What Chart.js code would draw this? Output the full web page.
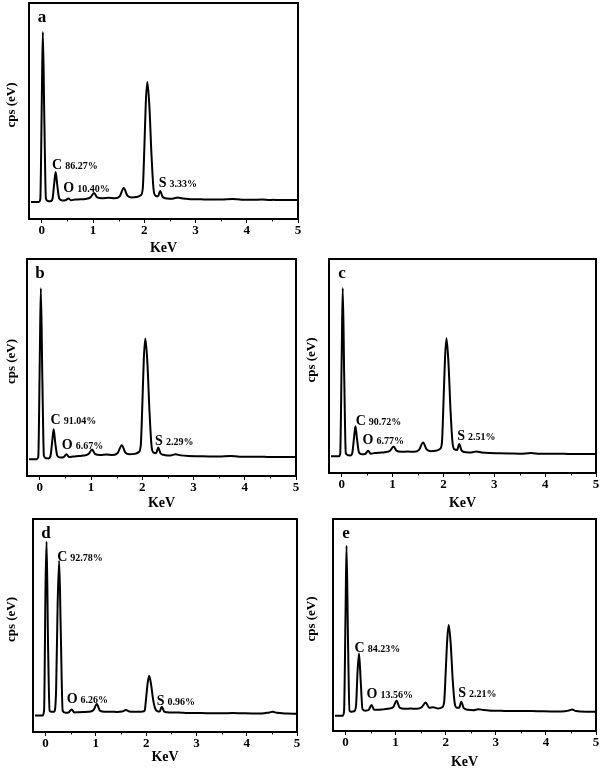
<!DOCTYPE html>
<html><head><meta charset="utf-8">
<script src="https://cdn.jsdelivr.net/npm/chart.js@4/dist/chart.umd.min.js"></script>
<style>
html,body{margin:0;padding:0;background:#fff;}
#wrap{position:relative;width:600px;height:771px;overflow:hidden;background:#fff;}
canvas{position:absolute;}
</style></head>
<body><div id="wrap">
<canvas id="ca"></canvas><canvas id="cb"></canvas><canvas id="cc"></canvas><canvas id="cd"></canvas><canvas id="ce"></canvas>
</div>
<script>
// ---------- DATA ----------
const energy = [-0.21,-0.06,-0.03,0.0,0.02,0.05,0.08,0.12,0.17,0.21,0.24,0.27,0.3,0.34,0.4,0.46,0.52,0.57,0.65,0.75,0.85,0.95,1.02,1.08,1.18,1.3,1.42,1.52,1.6,1.67,1.75,1.85,1.93,1.97,2.0,2.03,2.06,2.1,2.14,2.18,2.22,2.27,2.31,2.36,2.45,2.55,2.65,2.75,2.9,3.1,3.3,3.5,3.72,3.9,4.1,4.3,4.45,4.52,4.6,4.8,5.0];

const countsA = [7.9,7.9,9.0,55,86.6,45,9.5,8.3,8.2,9.5,16,21.8,16,9.5,8.6,8.7,9.5,8.7,9.0,9.1,9.3,10.0,12.0,10.0,9.6,9.8,9.6,10.5,14.3,10.8,10.0,10.2,11.0,14,32,54,63.4,52,30,14,10.8,10.5,13.0,10.2,9.5,9.4,10.0,9.5,9.2,9.1,9.0,9.0,9.3,8.9,8.9,9.0,8.8,8.9,8.8,8.8,8.8];
const countsB = [7.7,7.7,8.8,55,86.5,44,9.3,8.2,8.1,9.4,15.5,21.5,15.5,9.4,8.5,8.6,10.0,8.8,9.0,9.2,9.4,10.1,12.2,10.1,9.7,9.9,9.7,10.6,14.2,10.8,10.0,10.2,11.0,14,32,54,63.4,52,30,14,10.8,10.5,13.1,10.3,9.6,9.5,10.0,9.5,9.2,9.1,9.0,9.0,9.2,8.9,8.9,8.9,8.8,8.8,8.8,8.8,8.8];
const countsC = [7.8,7.8,8.9,55,86.4,44,9.4,8.3,8.2,9.6,16,21.8,16,9.6,8.8,8.9,10.4,9.0,9.3,9.5,9.7,10.4,12.4,10.3,9.9,10.0,9.9,10.8,14.3,11.0,10.2,10.4,11.2,14,32,53,63.0,51,29,14,11.0,10.8,13.5,10.4,9.7,9.6,10.1,9.6,9.3,9.2,9.1,9.0,9.3,9.0,9.0,9.0,8.9,8.9,8.9,8.9,8.9];
const countsD = [7.7,7.7,10,70,89.4,40,10,9.5,9.5,20,60,80.4,50,10,9.0,9.2,10.6,9.2,9.3,9.4,9.5,10.2,13.1,10.0,9.5,9.5,9.4,9.6,10.3,9.6,9.5,9.5,9.6,10.0,16,23,26.4,22,15,11,9.8,9.6,11.9,9.6,9.2,9.1,9.1,9.0,8.9,8.9,8.8,8.8,8.9,8.8,8.7,8.7,9.2,9.5,9.0,8.7,8.6];
const countsE = [7.2,7.2,9.0,55,87.4,42,9.5,9.1,9.3,12,28,36.6,25,10.2,9.6,9.9,12.3,10.0,10.0,10.2,10.5,11.2,14.3,11.0,10.5,10.6,10.5,11.2,13.4,11.0,11.2,10.6,11.2,14,28,43,50,41,24,13,11.0,11.0,13.8,10.8,10.0,9.8,10.3,9.9,9.6,9.5,9.4,9.4,9.4,9.3,9.2,9.2,9.6,10.2,9.4,9.1,9.1];

const tickValues = [0,1,2,3,4,5];
const tickLabels = ['0','1','2','3','4','5'];
const minorTickValues = [0.5,1.5,2.5,3.5,4.5];
const elementNames = ['C','O','S'];
const pctA = ['86.27%','10.40%','3.33%'];
const pctB = ['91.04%','6.67%','2.29%'];
const pctC = ['90.72%','6.77%','2.51%'];
const pctD = ['92.78%','6.26%','0.96%'];
const pctE = ['84.23%','13.56%','2.21%'];

// ---------- LAYOUT ----------
const SERIF = '"Liberation Serif","Times New Roman",Times,serif';
const panels = [
  {id:'ca', letter:'a', data:countsA, pct:pctA, cx:0,   cy:0,   w:304, h:258, box:[29,3,298,219], keV:248,
   ann:[[0.20,25.5],[0.42,14.8],[2.28,17.1]]},
  {id:'cb', letter:'b', data:countsB, pct:pctB, cx:0,   cy:256, w:304, h:256, box:[27,3,296,220], keV:247,
   ann:[[0.21,26.2],[0.43,14.6],[2.25,16.5]]},
  {id:'cc', letter:'c', data:countsC, pct:pctC, cx:300, cy:256, w:300, h:256, box:[29,3,296,217], keV:247,
   ann:[[0.275,24.6],[0.41,16.0],[2.27,17.6]]},
  {id:'cd', letter:'d', data:countsD, pct:pctD, cx:0,   cy:512, w:304, h:259, box:[33,7,297,220], keV:245,
   ann:[[0.23,82.8],[0.42,16.1],[2.21,15.0]]},
  {id:'ce', letter:'e', data:countsE, pct:pctE, cx:300, cy:512, w:300, h:259, box:[33,7,296,219], keV:251,
   ann:[[0.18,39.8],[0.42,17.8],[2.25,18.3]]}
];

const deco = {
  id:'deco',
  afterDraw(chart, args, o){
    const {ctx, chartArea:ca, scales:{x,y}} = chart;
    ctx.save();
    ctx.strokeStyle = '#000'; ctx.fillStyle = '#000';
    ctx.lineWidth = 2;
    ctx.strokeRect(ca.left, ca.top, ca.right-ca.left, ca.bottom-ca.top);
    ctx.lineWidth = 1;
    for (const v of minorTickValues){
      const px = Math.round(x.getPixelForValue(v))+0.5;
      ctx.beginPath(); ctx.moveTo(px, ca.bottom); ctx.lineTo(px, ca.bottom+2.5); ctx.stroke();
    }
    ctx.font = 'bold 17px '+SERIF; ctx.textAlign='center'; ctx.textBaseline='middle';
    ctx.fillText(o.letter, ca.left+13, ca.top+15);
    ctx.save();
    ctx.translate(12, (ca.top+ca.bottom)/2 - 6); ctx.rotate(-Math.PI/2);
    ctx.font = 'bold 13px '+SERIF; ctx.fillText('cps (eV)', 0, 0);
    ctx.restore();
    ctx.textAlign='left'; ctx.textBaseline='alphabetic';
    o.ann.forEach((a,i)=>{
      const px = x.getPixelForValue(a[0]), py = y.getPixelForValue(a[1]) + 5;
      ctx.font = 'bold 14px '+SERIF;
      ctx.fillText(elementNames[i], px, py);
      const w = ctx.measureText(elementNames[i]).width;
      ctx.font = 'bold 10px '+SERIF;
      ctx.fillText(o.pct[i], px+w+3, py);
    });
    ctx.restore();
  }
};

panels.forEach(p=>{
  const cv = document.getElementById(p.id);
  cv.width = p.w; cv.height = p.h;
  cv.style.left = p.cx+'px'; cv.style.top = p.cy+'px';
  cv.style.width = p.w+'px'; cv.style.height = p.h+'px';
  const axisH = p.h - p.box[3];
  new Chart(cv, {
    type:'line',
    data:{ datasets:[{ data: energy.map((e,i)=>({x:e, y:p.data[i]})),
      borderColor:'#000', borderWidth:2, pointRadius:0, fill:false,
      cubicInterpolationMode:'monotone' }]},
    options:{
      responsive:false, animation:false, devicePixelRatio:1,
      layout:{ padding:{ left:p.box[0], top:p.box[1], right:p.w-p.box[2], bottom:0 } },
      plugins:{ legend:{display:false}, tooltip:{enabled:false}, deco:{letter:p.letter, ann:p.ann, pct:p.pct} },
      scales:{
        x:{ type:'linear', min:-0.25, max:5,
          afterBuildTicks:s=>{ s.ticks = tickValues.map(v=>({value:v})); },
          afterFit:s=>{ s.height = axisH; },
          grid:{ display:true, drawOnChartArea:false, drawTicks:true, tickLength:4, color:'#000', lineWidth:1 },
          border:{ display:false },
          ticks:{ color:'#000', padding:0, maxRotation:0, autoSkip:false,
            font:{ family:SERIF, size:13, weight:'bold' },
            callback:(v)=>{ const k = tickValues.indexOf(v); return k>=0 ? tickLabels[k] : ''; } },
          title:{ display:true, text:'KeV', color:'#000', font:{ family:SERIF, size:14, weight:'bold' },
            padding:{ top:0, bottom: Math.max(0, p.h - p.keV - 8.4) } }
        },
        y:{ display:false, min:0, max:100 }
      }
    },
    plugins:[deco]
  });
});
</script>
</body></html>
